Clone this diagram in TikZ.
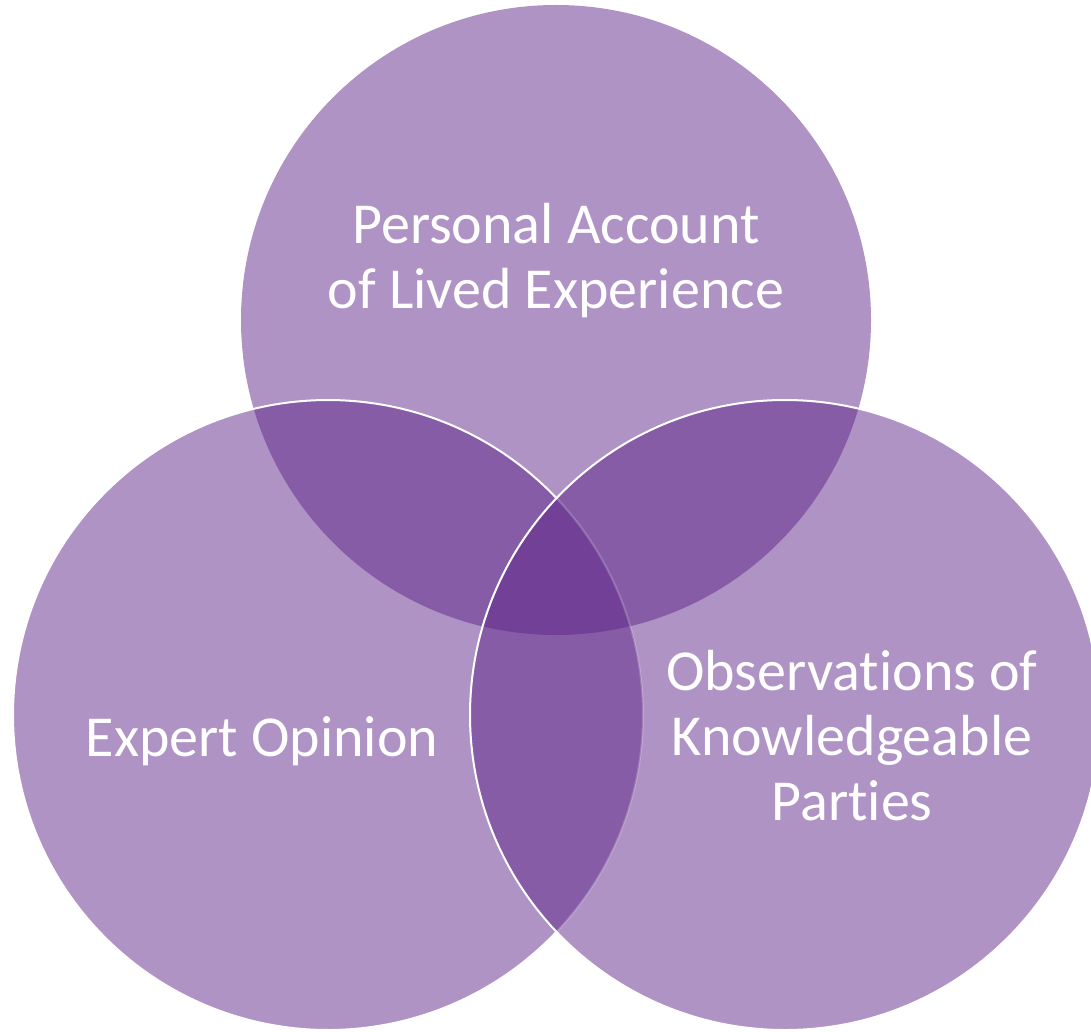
\documentclass[tikz,border=0pt]{standalone}
\usepackage{fontspec}
\setmainfont[Ligatures=NoCommon]{Carlito}
\definecolor{vbase}{RGB}{95,39,137}
\begin{document}
\begin{tikzpicture}[x=0.5pt,y=-0.5pt,
  venn/.style={fill=vbase,fill opacity=0.5},
  rim/.style={draw=white,line width=1pt},
  txt/.style={text=white,align=center,font=\fontsize{29}{32.5}\selectfont}]
\useasboundingbox (0,0) rectangle (1091,1032);
\coordinate (ct) at (556,320);
\coordinate (cl) at (328,715);
\coordinate (cr) at (785,715);
% top circle
\fill[venn] (ct) circle[radius=157.5pt];
% left circle
\fill[venn] (cl) circle[radius=157.5pt];
\draw[rim] (cl) ++(43.5:157.5pt) arc[start angle=43.5,end angle=316.5,radius=157.5pt];
% right circle
\fill[venn] (cr) circle[radius=157.5pt];
\draw[white,line width=1pt,opacity=0.2] (cl) ++(-43.5:157.5pt) arc[start angle=-43.5,end angle=43.5,radius=157.5pt];
\draw[rim] (cr) circle[radius=157.5pt];
% labels
\node[txt] (tpers) at (556,261) {Personal Account\\of Lived Experience};
\node[txt] (texp) at (262,741) {Expert Opinion};
\node[txt] (tobs) at (852,736) {Observations of\\Knowledgeable\\Parties};
\end{tikzpicture}
\end{document}
